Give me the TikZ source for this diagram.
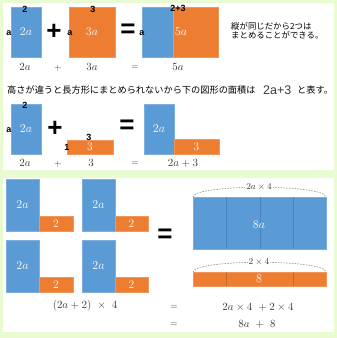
\documentclass[tikz,border=0pt]{standalone}
\usepackage{fontspec}
\newfontfamily\jp{Noto Sans CJK JP}
\newfontfamily\lsans{Liberation Sans}
\definecolor{bggreen}{HTML}{E9FBD1}
\definecolor{myblue}{HTML}{5B9BD5}
\definecolor{myorange}{HTML}{ED7D31}
\definecolor{txtgray}{HTML}{3A3A3A}
\definecolor{divblue}{HTML}{4A84BA}
\definecolor{divorange}{HTML}{C96A2A}
\begin{document}
\begin{tikzpicture}[x=1pt,y=-1pt,
  box/.style={inner sep=0pt, outer sep=0pt, text=white, font=\fontsize{11.5}{11.5}\selectfont},
  bbox/.style={box, fill=myblue, draw=myblue!80!white, line width=0.4pt},
  obox/.style={box, fill=myorange, draw=myorange!80!white, line width=0.4pt},
  sm/.style={inner sep=0pt, font=\lsans\bfseries\fontsize{9}{9}\selectfont},
  big/.style={inner sep=0pt, font=\lsans\bfseries\fontsize{26}{26}\selectfont},
  lbl/.style={inner sep=0pt, text=txtgray, font=\fontsize{11}{11}\selectfont},
  op/.style={inner sep=0pt, text=txtgray, font=\fontsize{9}{9}\selectfont},
  jptext/.style={inner sep=0pt, anchor=west, font=\jp\fontsize{8.4}{8.4}\selectfont},
  arcline/.style={draw=gray, dash pattern=on 1.6pt off 1.2pt, line width=0.5pt},
  divider/.style={line width=0.6pt}
]
\useasboundingbox (0,0) rectangle (337,338);
\fill[bggreen] (0,0) rectangle (337,338);
\fill[white] (3,3) rectangle (334,170);
\fill[white] (3,178) rectangle (334,332);

% ---------- Row 1 ----------
\node[bbox, minimum width=30pt, minimum height=50pt] (b1) at (26,32) {$2a$};
\node[sm] (b1top) at (25,9) {2};
\node[sm] (b1left) at (9,33) {a};
\node[big] (plus1) at (54,32) {+};
\node[obox, minimum width=46pt, minimum height=50pt] (o1) at (92,32) {$3a$};
\node[sm] (o1top) at (93,9) {3};
\node[sm] (o1left) at (70,33) {a};
\node[big] (eq1) at (128,31) {=};
\node[bbox, minimum width=31pt, minimum height=50pt] (b2) at (157.5,32) {};
\node[obox, minimum width=45pt, minimum height=50pt] (o2) at (195.5,32) {};
\node[box] (b2lab) at (181,32) {$5a$};
\node[sm] (b2top) at (178,8) {2+3};
\node[sm] (b2left) at (142,33) {a};
\node[jptext] (jp1) at (231,26) {縦が同じだから2つは};
\node[jptext] (jp2) at (231,35.5) {まとめることができる。};
\node[lbl] (l11) at (25,67) {$2a$};
\node[op] (l12) at (58,68) {$+$};
\node[lbl] (l13) at (92,67) {$3a$};
\node[op] (l14) at (135,68) {$=$};
\node[lbl] (l15) at (178,67) {$5a$};

% ---------- Row 2 ----------
\node[jptext, font=\jp\fontsize{9.2}{9.2}\selectfont] (jp3) at (7,90) {高さが違うと長方形にまとめられないから下の図形の面積は};
\node[inner sep=0pt, anchor=west, font=\lsans\fontsize{12.5}{12.5}\selectfont, text=txtgray] (expr) at (263,90) {2a+3};
\node[jptext, font=\jp\fontsize{9.2}{9.2}\selectfont] (jp4) at (297,90) {と表す。};

\node[bbox, minimum width=30pt, minimum height=50pt] (b3) at (26,129) {$2a$};
\node[sm] (b3top) at (25,105) {2};
\node[sm] (b3left) at (9,130) {a};
\node[big] (plus2) at (55,129) {+};
\node[obox, minimum width=46pt, minimum height=14pt] (o3) at (90,147) {3};
\node[sm] (o3top) at (89,137) {3};
\node[sm] (o3left) at (67,147) {1};
\node[big] (eq2) at (127,127) {=};
\node[bbox, minimum width=30pt, minimum height=50pt] (b4) at (159,129) {$2a$};
\node[obox, minimum width=45pt, minimum height=15pt] (o4) at (196.5,146.5) {3};
\node[lbl] (l21) at (25,163) {$2a$};
\node[op] (l22) at (58,164) {$+$};
\node[lbl] (l23) at (91,163) {$3$};
\node[op] (l24) at (135,164) {$=$};
\node[lbl] (l25) at (183,163) {$2a+3$};

% ---------- Panel 2 ----------
\node[bbox, minimum width=33pt, minimum height=52pt] (g1b) at (22.5,205) {$2a$};
\node[obox, minimum width=34pt, minimum height=15pt] (g1o) at (56,223.5) {2};
\node[bbox, minimum width=33pt, minimum height=52pt] (g2b) at (98.5,205) {$2a$};
\node[obox, minimum width=33pt, minimum height=15pt] (g2o) at (131.5,223.5) {2};
\node[bbox, minimum width=33pt, minimum height=52pt] (g3b) at (22.5,266) {$2a$};
\node[obox, minimum width=34pt, minimum height=15pt] (g3o) at (56,284.5) {2};
\node[bbox, minimum width=33pt, minimum height=52pt] (g4b) at (98.5,266) {$2a$};
\node[obox, minimum width=33pt, minimum height=15pt] (g4o) at (131.5,284.5) {2};

\node[big] (eq3) at (165,236) {=};

\node[bbox, minimum width=133pt, minimum height=52pt] (bigb) at (259.5,223) {};
\draw[divider, draw=divblue] (226,197) -- (226,249);
\draw[divider, draw=divblue] (260,197) -- (260,249);
\draw[divider, draw=divblue] (293,197) -- (293,249);
\node[box, font=\fontsize{12}{12}\selectfont] (bigblab) at (259,225) {$8a$};
\draw[arcline] (bigb.north west) .. controls +(1,-13) and +(-1,-13) .. (bigb.north east);
\node[inner sep=1pt, fill=white, text=txtgray, font=\fontsize{9}{9}\selectfont] (arc1lab) at (259,187) {$2a\times 4$};

\node[obox, minimum width=133pt, minimum height=14pt] (bigo) at (259.5,279) {};
\draw[divider, draw=divorange] (226,272) -- (226,286);
\draw[divider, draw=divorange] (293,272) -- (293,286);
\node[box, font=\fontsize{12}{12}\selectfont] (bigolab) at (259,279) {8};
\draw[arcline] (bigo.north west) .. controls +(1,-13) and +(-1,-13) .. (bigo.north east);
\node[inner sep=1pt, fill=white, text=txtgray, font=\fontsize{9}{9}\selectfont] (arc2lab) at (259,262) {$2\times 4$};

\node[lbl, font=\fontsize{10.5}{10.5}\selectfont] (e1) at (85,306) {$(2a+2)\ \times\ 4$};
\node[op] (e2) at (174,308) {$=$};
\node[lbl, font=\fontsize{10.5}{10.5}\selectfont] (e3) at (258,307) {$2a\times 4\ +2\times 4$};
\node[op] (e4) at (174,325) {$=$};
\node[lbl, font=\fontsize{10.5}{10.5}\selectfont] (e5) at (257,324) {$8a\ +\ 8$};
\end{tikzpicture}
\end{document}
